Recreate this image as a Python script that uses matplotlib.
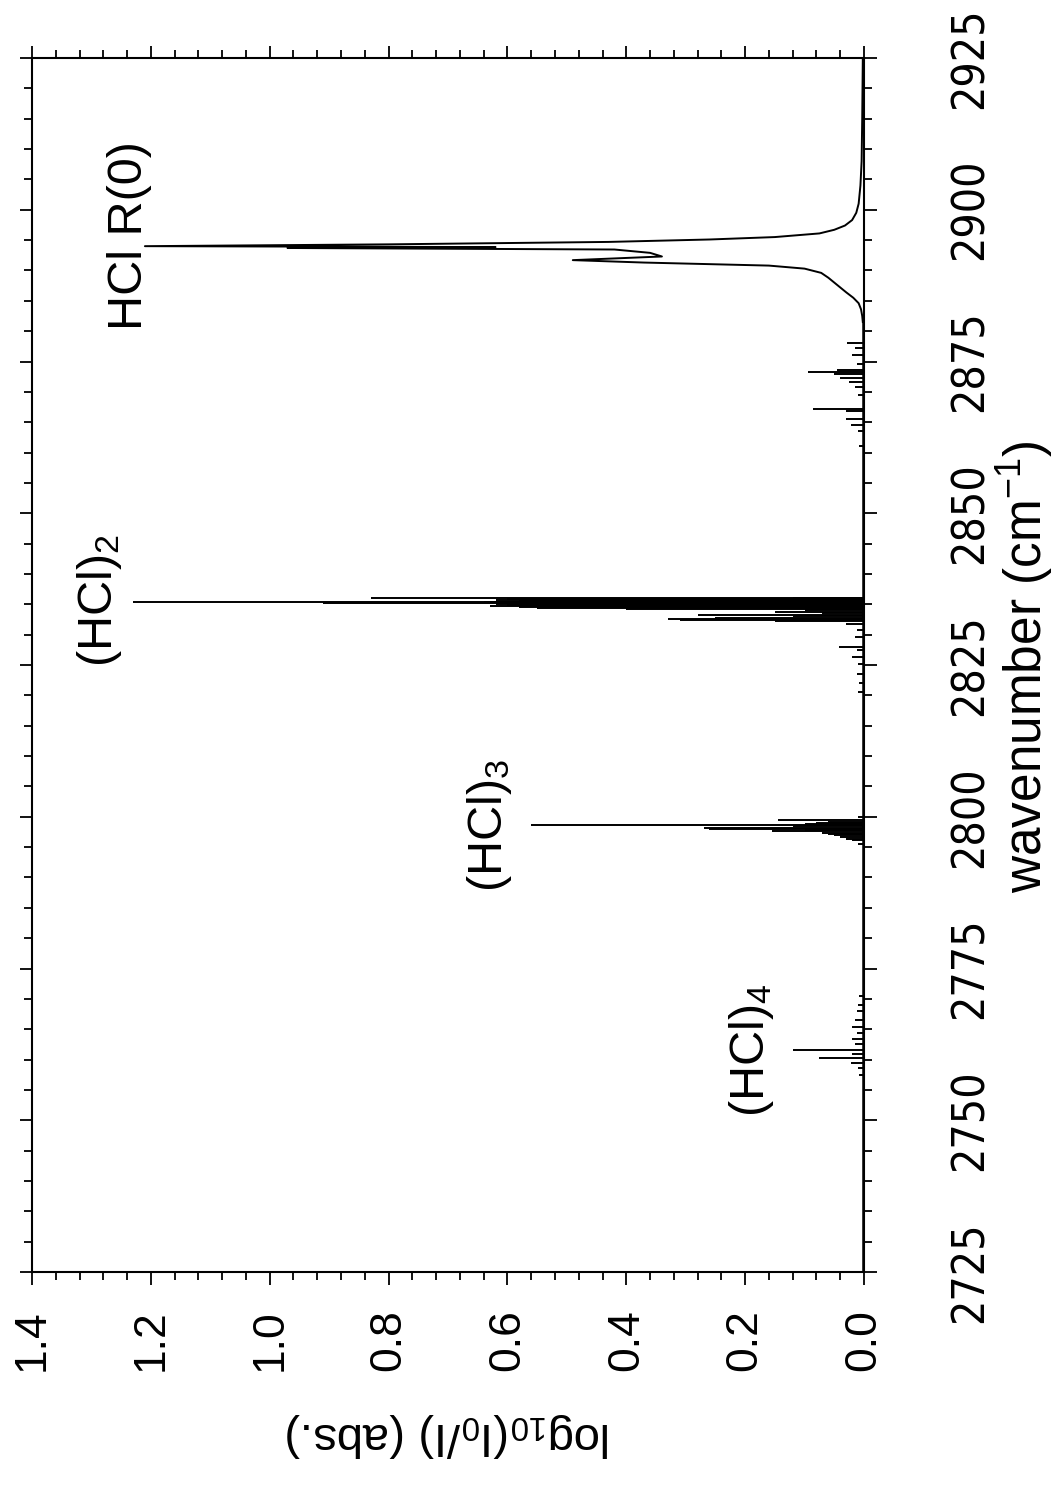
import matplotlib
matplotlib.use("Agg")
import matplotlib.pyplot as plt
from matplotlib.ticker import MultipleLocator

# -----------------------------
# data read off the (rotated) spectrum
# -----------------------------
# HCl R(0) monomer line envelope
r0_wn = [2925, 2915, 2908, 2904, 2901, 2899.5, 2898.3, 2897.4, 2896.7, 2896.1,
         2895.5, 2895.1, 2894.7, 2894.3, 2894.0, 2893.85, 2893.7, 2893.45, 2892.9,
         2892.3, 2891.7, 2891.3, 2890.8, 2890.3, 2889.6, 2888.8, 2888.0, 2887.2,
         2886.4, 2885.5, 2884.6, 2883.6, 2882.5, 2881.5]
r0_abs = [0.002, 0.003, 0.004, 0.006, 0.009, 0.013, 0.020, 0.032, 0.050, 0.075,
          0.15, 0.26, 0.43, 0.80, 1.21, 0.62, 0.97, 0.42, 0.36,
          0.34, 0.49, 0.37, 0.16, 0.10, 0.072, 0.060, 0.050, 0.040,
          0.030, 0.018, 0.009, 0.005, 0.003, 0.002]

# flat baseline below the R(0) wing
base_wn = [2881.5, 2725]
base_abs = [0.002, 0.002]

# sharp cluster lines: position (cm-1) and height (abs.)
line_wn = [
    # small lines 2860-2880
    2878.0, 2877.2, 2876.0, 2874.6, 2873.6, 2873.3, 2873.0, 2872.3, 2871.6,
    2870.8, 2869.5, 2867.2, 2866.8, 2865.6, 2864.6, 2863.5, 2861.0,
    # (HCl)2
    2836.1, 2836.0, 2835.85, 2835.7, 2835.55, 2835.45, 2835.3, 2835.15, 2835.0,
    2834.85, 2834.7, 2834.55, 2834.4, 2834.3, 2834.1, 2833.8, 2833.55, 2833.3,
    2833.1, 2832.8, 2832.6, 2832.4, 2832.2, 2831.8, 2830.8, 2829.6, 2828.0,
    2827.4, 2826.3, 2825.2, 2823.5, 2822.0, 2820.5,
    # (HCl)3
    2800.0, 2799.5, 2799.2, 2799.0, 2798.8, 2798.6, 2798.4, 2798.2, 2798.0,
    2797.8, 2797.6, 2797.4, 2797.2, 2797.0, 2796.7, 2796.4, 2796.1, 2795.5,
    # (HCl)4
    2770.5, 2769.0, 2768.0, 2766.5, 2765.4, 2764.4, 2763.4, 2762.6, 2761.5,
    2760.9, 2760.3, 2759.5, 2758.6, 2757.5,
]
line_abs = [
    0.028, 0.015, 0.020, 0.012, 0.045, 0.095, 0.050, 0.040, 0.025,
    0.015, 0.010, 0.085, 0.030, 0.030, 0.022, 0.010, 0.008,
    0.12, 0.83, 0.60, 0.62, 0.58, 1.23, 0.64, 0.91, 0.62,
    0.60, 0.63, 0.58, 0.55, 0.40, 0.10, 0.15, 0.07, 0.28,
    0.12, 0.25, 0.33, 0.31, 0.15, 0.03, 0.012, 0.015, 0.042,
    0.012, 0.020, 0.010, 0.012, 0.008, 0.010,
    0.010, 0.145, 0.06, 0.08, 0.10, 0.56, 0.12, 0.27, 0.26,
    0.10, 0.155, 0.07, 0.06, 0.05, 0.04, 0.03, 0.02, 0.010,
    0.008, 0.010, 0.012, 0.015, 0.020, 0.012, 0.020, 0.015, 0.12,
    0.020, 0.075, 0.022, 0.010, 0.008,
]

wn_ticks = [2725, 2750, 2775, 2800, 2825, 2850, 2875, 2900, 2925]
abs_ticks = [0.0, 0.2, 0.4, 0.6, 0.8, 1.0, 1.2, 1.4]

labels = ["HCl R(0)", "(HCl)$_2$", "(HCl)$_3$", "(HCl)$_4$"]
label_abs = [1.236, 1.286, 0.63, 0.189]
label_wn = [2895.8, 2835.7, 2798.6, 2761.6]

# -----------------------------
# figure (page is turned 90 degrees)
# -----------------------------
plt.rcParams['font.family'] = ['Liberation Sans', 'DejaVu Sans']
plt.rcParams['mathtext.default'] = 'regular'

W, H = 1054, 1493
fig = plt.figure(figsize=(W / 100, H / 100), dpi=100)
ax = fig.add_axes([32 / W, 1 - 1272 / H, (864 - 32) / W, (1272 - 58) / H])

ax.plot(r0_abs, r0_wn, color="black", lw=1.4)
ax.plot(base_abs, base_wn, color="black", lw=1.8)
ax.hlines(line_wn, 0, line_abs, color="black", lw=1.4)

ax.set_xlim(1.4, 0)
ax.set_ylim(2725, 2925)

ax.set_xticks(abs_ticks)
ax.set_xticklabels([f"{v:.1f}" for v in abs_ticks], rotation=90)
ax.xaxis.set_minor_locator(MultipleLocator(0.04))
ax.set_yticks(wn_ticks)
ax.set_yticklabels([str(v) for v in wn_ticks], rotation=90, va="center",
                   family="DejaVu Sans", stretch="condensed", fontsize=32)
ax.yaxis.set_minor_locator(MultipleLocator(5))

for s in ax.spines.values():
    s.set_linewidth(1.5)
ax.tick_params(which="both", direction="out", top=True, bottom=True,
               left=True, right=True, labelleft=False, labelright=True,
               width=1.3)
ax.tick_params(which="major", length=9)
ax.tick_params(which="minor", length=6)
ax.tick_params(axis="x", which="major", pad=18, labelsize=32)
ax.tick_params(axis="y", which="major", pad=52)

for txt, xa, yw in zip(labels, label_abs, label_wn):
    ax.text(xa, yw, txt, rotation=90, ha="center", va="center", fontsize=35)

fig.text(1025 / W, 1 - 667 / H, "wavenumber (cm$^{-1}$)", rotation=90,
         ha="center", va="center", fontsize=37)
fig.text(448 / W, 1 - 1435 / H, "log$_{10}$(I$_0$/I) (abs.)", rotation=180,
         ha="center", va="center", fontsize=34)

fig.savefig("out.png", dpi=100)
